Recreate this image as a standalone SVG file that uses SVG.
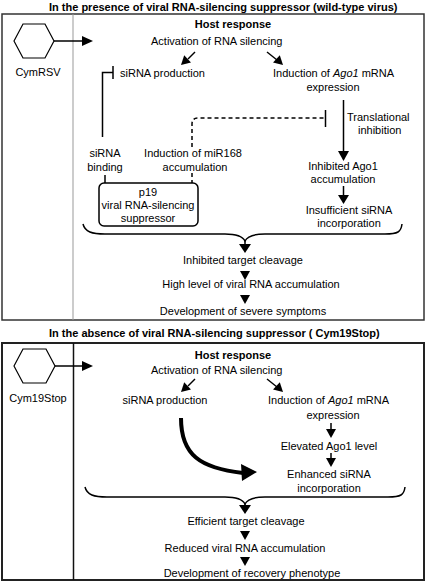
<svg xmlns="http://www.w3.org/2000/svg" width="427" height="583" viewBox="0 0 427 583">
<defs>
<style>
text{font-family:"Liberation Sans",Arial,sans-serif;font-size:11px;fill:#000}
.b{font-weight:bold}
.m{text-anchor:middle}
.ln{fill:none;stroke:#000;stroke-width:1.5}
.hd{fill:#000;stroke:none}
</style>
</defs>
<rect width="427" height="583" fill="#fff"/>
<!-- Top panel -->
<g id="panel-top">
<text class="b" x="49" y="11">In the presence of viral RNA-silencing suppressor (wild-type virus)</text>
<rect x="2" y="14" width="422" height="306" fill="none" stroke="#333" stroke-width="1.5"/>
<line x1="73" y1="14" x2="73" y2="320" stroke="#999" stroke-width="1"/>
</g>
<g id="virus-top">
<polygon points="14,41 23,24 45,24 54,41 45,58 23,58" fill="#fff" stroke="#000" stroke-width="1.2"/>
<text class="m" x="38" y="76">CymRSV</text>
</g>
<g id="host-top">
<text class="b m" x="233" y="28">Host response</text>
<text x="151" y="45">Activation of RNA silencing</text>
</g>
<g id="sirna-top"><text x="120" y="77">siRNA production</text></g>
<g id="ago1-top"><text x="273" y="77">Induction of <tspan font-style="italic">Ago1</tspan> mRNA</text><text class="m" x="333" y="91">expression</text></g>
<g id="transl-top"><text x="347" y="121">Translational</text><text x="358" y="134">inhibition</text></g>
<g id="binding-top"><text class="m" x="105" y="157">siRNA</text><text class="m" x="105" y="171">binding</text></g>
<g id="mir168-top"><text class="m" x="193" y="157">Induction of miR168</text><text class="m" x="195" y="171">accumulation</text></g>
<g id="p19">
<rect x="99" y="183" width="99" height="43" rx="5" fill="none" stroke="#000" stroke-width="1.5"/>
<text class="m" x="148" y="196">p19</text>
<text class="m" x="148" y="209">viral RNA-silencing</text>
<text class="m" x="148" y="222">suppressor</text>
</g>
<g id="inhago-top"><text class="m" x="343" y="170">Inhibited Ago1</text><text class="m" x="343" y="183">accumulation</text></g>
<g id="insuff-top"><text class="m" x="349" y="214">Insufficient siRNA</text><text class="m" x="349" y="227">incorporation</text></g>
<g id="cleav-top"><text class="m" x="243" y="264">Inhibited target cleavage</text></g>
<g id="accum-top"><text class="m" x="251" y="288">High level of viral RNA accumulation</text></g>
<g id="sympt-top"><text class="m" x="243" y="315">Development of severe symptoms</text></g>

<!-- Bottom panel -->
<g id="panel-bottom">
<text class="b" x="49" y="337">In the absence of viral RNA-silencing suppressor ( Cym19Stop)</text>
<rect x="2" y="343" width="422" height="237" fill="none" stroke="#222" stroke-width="2"/>
<line x1="73.5" y1="343" x2="73.5" y2="580" stroke="#111" stroke-width="1.5"/>
</g>
<g id="virus-bottom">
<polygon points="14,366 23,349 46,349 55,366 46,383 23,383" fill="#fff" stroke="#000" stroke-width="1.2"/>
<text class="m" x="38" y="402">Cym19Stop</text>
</g>
<g id="host-bottom">
<text class="b m" x="233" y="359">Host response</text>
<text x="151" y="374">Activation of RNA silencing</text>
</g>
<g id="sirna-bottom"><text class="m" x="165" y="404">siRNA production</text></g>
<g id="ago1-bottom"><text x="268" y="404">Induction of <tspan font-style="italic">Ago1</tspan> mRNA</text><text class="m" x="333" y="419">expression</text></g>
<g id="elev-bottom"><text class="m" x="329" y="450">Elevated Ago1 level</text></g>
<g id="enh-bottom"><text class="m" x="329" y="478">Enhanced siRNA</text><text class="m" x="329" y="492">incorporation</text></g>
<g id="cleav-bottom"><text class="m" x="246" y="525">Efficient target cleavage</text></g>
<g id="accum-bottom"><text class="m" x="245" y="552">Reduced viral RNA accumulation</text></g>
<g id="pheno-bottom"><text class="m" x="252" y="577">Development of recovery phenotype</text></g>

<g id="connectors">
<!-- top -->
<line class="ln" x1="54" y1="41" x2="84" y2="41"/>
<polygon class="hd" points="82,36 93,41 82,46"/>
<line class="ln" x1="195" y1="52" x2="188" y2="59"/>
<polygon class="hd" points="181,65 184.2,55.2 191,62.5"/>
<line class="ln" x1="267" y1="52" x2="277" y2="60"/>
<polygon class="hd" points="283,65 273,62.5 279.8,55.2"/>
<path class="ln" d="M102.5,137 V72.5 H113"/>
<line class="ln" x1="113" y1="66" x2="113" y2="79"/>
<line class="ln" x1="343.5" y1="100" x2="343.5" y2="152"/>
<polygon class="hd" points="338,151 349,151 343.5,161"/>
<path class="ln" d="M192,147 V124 Q192,118 198,118 H325" stroke-dasharray="4,3"/>
<line class="ln" x1="325.5" y1="110" x2="325.5" y2="127"/>
<line class="ln" x1="192" y1="173" x2="192" y2="183" stroke-dasharray="4,3"/>
<line class="ln" x1="105" y1="175" x2="105" y2="183"/>
<line class="ln" x1="343.5" y1="186" x2="343.5" y2="196"/>
<polygon class="hd" points="338,195 349,195 343.5,204"/>
<path class="ln" d="M83,224 C85,232 92,234 105,234 L225,234 C238,234 243,237 245,241 C247,237 252,234 265,234 L385,234 C398,234 401,232 402,224"/>
<line class="ln" x1="245" y1="240" x2="245" y2="245"/>
<polygon class="hd" points="239,244 251,244 245,253"/>
<polygon class="hd" points="240,271 250,271 245,280"/>
<polygon class="hd" points="240,295 250,295 245,304"/>
<!-- bottom -->
<line class="ln" x1="55" y1="366" x2="84" y2="366"/>
<polygon class="hd" points="82,361 93,366 82,371"/>
<line class="ln" x1="195" y1="379" x2="188" y2="386"/>
<polygon class="hd" points="181,392 184.2,382.2 191,389.5"/>
<line class="ln" x1="267" y1="379" x2="277" y2="387"/>
<polygon class="hd" points="283,392 273,389.5 279.8,382.2"/>
<line class="ln" x1="331" y1="423" x2="331" y2="430"/>
<polygon class="hd" points="326,429 336,429 331,438"/>
<line class="ln" x1="331" y1="453" x2="331" y2="459"/>
<polygon class="hd" points="326,458 336,458 331,467"/>
<path d="M181,418 C181,455 200,468 243,473" fill="none" stroke="#000" stroke-width="4"/>
<polygon class="hd" points="241,464 257,472 242,481"/>
<path class="ln" d="M85,487 C87,495 94,497 107,497 L225,497 C238,497 243,500 245,504 C247,500 252,497 265,497 L388,497 C401,497 404,495 405,487"/>
<line class="ln" x1="245" y1="503" x2="245" y2="506"/>
<polygon class="hd" points="239,505 251,505 245,514"/>
<polygon class="hd" points="240,531 250,531 245,540"/>
<polygon class="hd" points="240,557 250,557 245,566"/>
</g>
</svg>
